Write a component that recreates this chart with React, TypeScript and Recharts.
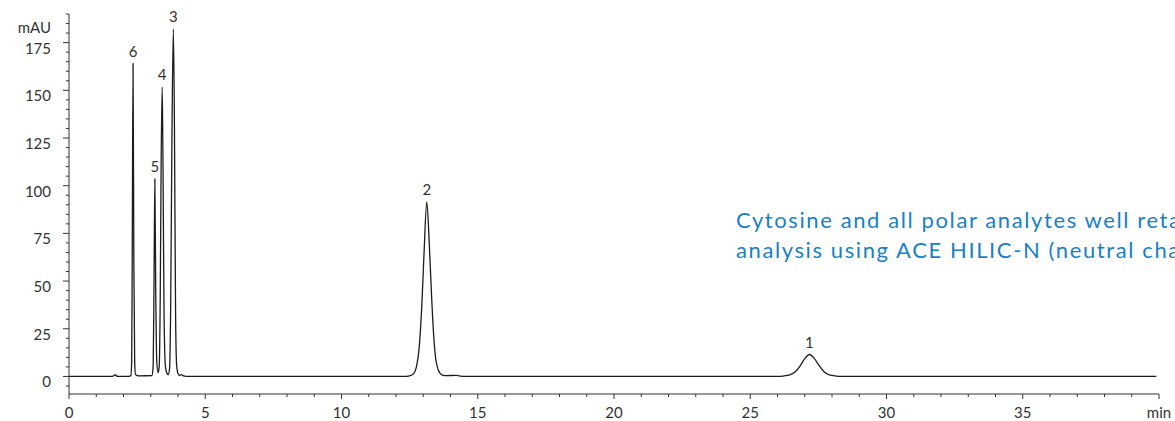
import React from 'react';
import { LineChart, Line, XAxis, YAxis, ReferenceDot } from 'recharts';

// chromatogram trace as [minutes, mAU]
const leadIn: [number, number][] = [
  [0, 0], [1.5, 0], [1.64, 0.3], [1.69, 1], [1.74, 0.3], [1.8, 0], [2.2, 0],
];
const earlyPeaks: [number, number][] = [
  [2.27, 0.5], [2.3, 8], [2.32, 60], [2.35, 164], [2.38, 60], [2.41, 8], [2.44, 1], [2.55, 0.3],
  [3.05, 0.5], [3.09, 6], [3.12, 50], [3.15, 103.5], [3.18, 50], [3.22, 8], [3.27, 2],
  [3.31, 5], [3.35, 45], [3.38, 110], [3.42, 151.7], [3.45, 110], [3.49, 30], [3.54, 5], [3.6, 1.5], [3.64, 1],
  [3.69, 4], [3.73, 35], [3.78, 130], [3.83, 182], [3.87, 130], [3.91, 35], [3.95, 6], [4.0, 1.5],
  [4.06, 0.5], [4.13, 1], [4.2, 0.3], [4.4, 0],
];
const cytosinePeak: [number, number][] = [
  [12.3, 0], [12.5, 0.3], [12.65, 1.5], [12.75, 5], [12.85, 15], [12.95, 38], [13.03, 65], [13.13, 91.5],
  [13.22, 70], [13.3, 44], [13.38, 22], [13.46, 9], [13.55, 3.5], [13.65, 1.2], [13.8, 0.4],
  [14.2, 0.6], [14.35, 0.2], [14.6, 0],
];
const latePeak: [number, number][] = [
  [26.0, 0], [26.2, 0.2], [26.45, 0.8], [26.65, 2.5], [26.85, 6], [27.0, 9.3], [27.17, 11.5],
  [27.35, 9.5], [27.5, 6.3], [27.7, 2.6], [27.9, 0.8], [28.15, 0.2], [28.4, 0], [39.9, 0],
];

const peakNames = ['1', '2', '3', '4', '5', '6'];
const peakTimes = [27.17, 13.13, 3.83, 3.42, 3.15, 2.35];
const peakHeights = [11.5, 91.5, 182, 151.7, 103.5, 164];

const xTicks = [0, 1, 2, 3, 4, 5, 6, 7, 8, 9, 10, 11, 12, 13, 14, 15, 16, 17, 18, 19, 20,
  21, 22, 23, 24, 25, 26, 27, 28, 29, 30, 31, 32, 33, 34, 35, 36, 37, 38, 39, 40];
const yTicks = [-5, 0, 5, 10, 15, 20, 25, 30, 35, 40, 45, 50, 55, 60, 65, 70, 75, 80, 85, 90, 95,
  100, 105, 110, 115, 120, 125, 130, 135, 140, 145, 150, 155, 160, 165, 170, 175, 180, 185, 190];

const data = [...leadIn, ...earlyPeaks, ...cytosinePeak, ...latePeak].map(([t, v]) => ({ t, v }));

const AXIS = '#333';
const TEXT = '#333';
const FONT = 'Lato, "Open Sans", sans-serif';

const XTick = (props: any) => {
  const { x, y, payload } = props;
  const v = payload.value;
  const major = v % 5 === 0;
  return (
    <g>
      <line x1={x} x2={x} y1={y} y2={y + (major ? 5 : 3)} stroke={AXIS} />
      {major && (
        <text x={x} y={y + 18} dominantBaseline="central" textAnchor="middle" fontSize={15} fill={TEXT} fontFamily={FONT}>
          {v === 40 ? 'min' : v}
        </text>
      )}
    </g>
  );
};

const YTick = (props: any) => {
  const { x, y, payload } = props;
  const v = payload.value;
  const major = v % 25 === 0 && v >= 0;
  return (
    <g>
      <line x1={x - (major ? 6 : 3)} x2={x} y1={y} y2={y} stroke={AXIS} />
      {major && (
        <text x={x - 18} y={y + 5} dominantBaseline="central" textAnchor="end" fontSize={15} fill={TEXT} fontFamily={FONT}>
          {v}
        </text>
      )}
    </g>
  );
};

export default function App() {
  return (
    <div style={{ position: 'absolute', left: 0, top: 0, width: 1175, height: 421, overflow: 'hidden', background: '#fff', fontFamily: FONT }}>
      <LineChart width={1175} height={421} data={data} margin={{ top: 14, right: 16, bottom: 5, left: 9 }}>
        <XAxis
          dataKey="t"
          type="number"
          domain={[0, 40]}
          ticks={xTicks}
          interval={0}
          height={22}
          tickSize={0}
          tickMargin={0}
          tickLine={false}
          axisLine={{ stroke: AXIS }}
          tick={<XTick />}
        />
        <YAxis
          type="number"
          domain={[-9.2, 190]}
          ticks={yTicks}
          interval={0}
          width={60}
          tickSize={0}
          tickMargin={0}
          tickLine={false}
          axisLine={{ stroke: AXIS }}
          tick={<YTick />}
          allowDataOverflow
        />
        <Line
          type="monotone"
          dataKey="v"
          stroke="#1c1c1c"
          strokeWidth={1.3}
          dot={false}
          activeDot={false}
          isAnimationActive={false}
        />
        {peakNames.map((name, i) => (
          <ReferenceDot
            key={name}
            x={peakTimes[i]}
            y={peakHeights[i]}
            r={0}
            fill="none"
            stroke="none"
            label={{ value: name, position: 'top', offset: 7, fill: TEXT, fontSize: 15, fontFamily: FONT }}
          />
        ))}
      </LineChart>
      <div style={{ position: 'absolute', left: 0, top: 18, width: 51, textAlign: 'right', fontSize: 15, lineHeight: '18px', color: TEXT }}>
        mAU
      </div>
      <div style={{ position: 'absolute', left: 736, top: 205, fontSize: 22, lineHeight: '30px', letterSpacing: 1.6, color: '#1a7fc4', whiteSpace: 'nowrap' }}>
        <div>Cytosine and all polar analytes well retained</div>
        <div>analysis using ACE HILIC-N (neutral charge)</div>
      </div>
    </div>
  );
}
